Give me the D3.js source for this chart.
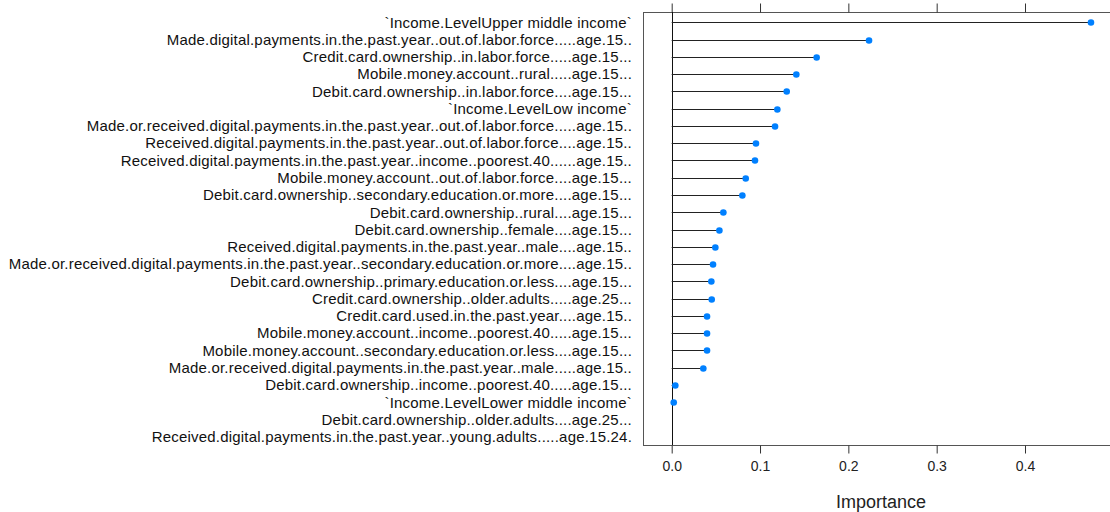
<!DOCTYPE html>
<html>
<head>
<meta charset="utf-8">
<script src="https://cdn.jsdelivr.net/npm/d3@7"></script>
<style>
  body { margin: 0; background: #fff; }
  svg { display: block; font-family: "Liberation Sans", Arial, sans-serif; }
</style>
</head>
<body>
<svg id="chart" width="1110" height="512"></svg>
<script>
(function(){
  var features = [
    '`Income.LevelUpper middle income`',
    'Made.digital.payments.in.the.past.year..out.of.labor.force.....age.15..',
    'Credit.card.ownership..in.labor.force.....age.15...',
    'Mobile.money.account..rural.....age.15...',
    'Debit.card.ownership..in.labor.force....age.15...',
    '`Income.LevelLow income`',
    'Made.or.received.digital.payments.in.the.past.year..out.of.labor.force.....age.15..',
    'Received.digital.payments.in.the.past.year..out.of.labor.force....age.15..',
    'Received.digital.payments.in.the.past.year..income..poorest.40......age.15..',
    'Mobile.money.account..out.of.labor.force....age.15...',
    'Debit.card.ownership..secondary.education.or.more....age.15...',
    'Debit.card.ownership..rural....age.15...',
    'Debit.card.ownership..female....age.15...',
    'Received.digital.payments.in.the.past.year..male....age.15..',
    'Made.or.received.digital.payments.in.the.past.year..secondary.education.or.more....age.15..',
    'Debit.card.ownership..primary.education.or.less....age.15...',
    'Credit.card.ownership..older.adults.....age.25...',
    'Credit.card.used.in.the.past.year....age.15..',
    'Mobile.money.account..income..poorest.40.....age.15...',
    'Mobile.money.account..secondary.education.or.less....age.15...',
    'Made.or.received.digital.payments.in.the.past.year..male.....age.15..',
    'Debit.card.ownership..income..poorest.40.....age.15...',
    '`Income.LevelLower middle income`',
    'Debit.card.ownership..older.adults....age.25...',
    'Received.digital.payments.in.the.past.year..young.adults.....age.15.24.'
  ];

  var importance = [
    0.4747, 0.2234, 0.1641, 0.1411, 0.1302, 0.1196, 0.1170, 0.0954, 0.0943,
    0.0838, 0.0800, 0.0585, 0.0540, 0.0494, 0.0468, 0.0449, 0.0453, 0.0400,
    0.0400, 0.0400, 0.0358, 0.0041, 0.0023, null, null
  ];

  var xTicks = [0, 0.1, 0.2, 0.3, 0.4];

  var data = features.map(function(f, i) { return {name: f, value: importance[i]}; });

  var box = {left: 643, top: 12, right: 1110, bottom: 445};

  var svg = d3.select('#chart');

  var x = d3.scaleLinear()
    .domain([0, 0.4])
    .range([671.7, 1025]);

  var y = d3.scalePoint()
    .domain(features)
    .range([22.3, 436.8]);

  // box
  svg.append('rect')
    .attr('x', box.left + 0.5)
    .attr('y', box.top + 0.5)
    .attr('width', box.right - box.left)
    .attr('height', box.bottom - box.top)
    .attr('fill', 'none')
    .attr('stroke', '#555')
    .attr('stroke-width', 1);

  // axes: bottom with labels, top ticks only
  var bottomAxis = d3.axisBottom(x)
    .tickValues(xTicks)
    .tickFormat(d3.format('.1f'))
    .tickSizeInner(8)
    .tickSizeOuter(0)
    .tickPadding(8);

  var gb = svg.append('g')
    .attr('transform', 'translate(0,' + (box.bottom + 0.5) + ')')
    .call(bottomAxis);
  gb.select('.domain').remove();
  gb.selectAll('line').attr('stroke', '#333');
  gb.selectAll('text')
    .attr('font-size', 14)
    .attr('font-family', '"Liberation Sans", Arial, sans-serif')
    .attr('fill', '#222');

  var gt = svg.append('g')
    .attr('transform', 'translate(0,' + (box.top + 0.5) + ')')
    .call(d3.axisTop(x).tickValues(xTicks).tickFormat('').tickSizeInner(9).tickSizeOuter(0));
  gt.select('.domain').remove();
  gt.selectAll('line').attr('stroke', '#333');

  // zero reference line
  svg.append('line')
    .attr('x1', Math.round(x(0)) + 0.5)
    .attr('x2', Math.round(x(0)) + 0.5)
    .attr('y1', box.top)
    .attr('y2', box.bottom)
    .attr('stroke', '#111')
    .attr('stroke-width', 1);

  var pts = data.filter(function(d) { return d.value !== null; });

  // stems
  svg.append('g')
    .selectAll('line')
    .data(pts)
    .enter()
    .append('line')
    .attr('x1', x(0))
    .attr('x2', function(d) { return x(d.value); })
    .attr('y1', function(d) { return Math.round(y(d.name)) + 0.5; })
    .attr('y2', function(d) { return Math.round(y(d.name)) + 0.5; })
    .attr('stroke', '#222')
    .attr('stroke-width', 1);

  // points
  svg.append('g')
    .selectAll('circle')
    .data(pts)
    .enter()
    .append('circle')
    .attr('cx', function(d) { return x(d.value); })
    .attr('cy', function(d) { return Math.round(y(d.name)) + 0.5; })
    .attr('r', 3.3)
    .attr('fill', '#0080ff');

  // feature labels
  svg.append('g')
    .selectAll('text')
    .data(data)
    .enter()
    .append('text')
    .attr('x', 632)
    .attr('y', function(d) { return y(d.name); })
    .attr('dy', '0.35em')
    .attr('text-anchor', 'end')
    .attr('font-size', 15)
    .attr('letter-spacing', 0.2)
    .attr('fill', '#111')
    .text(function(d) { return d.name; });

  svg.append('text')
    .attr('x', 881)
    .attr('y', 502)
    .attr('dy', '0.35em')
    .attr('text-anchor', 'middle')
    .attr('font-size', 18)
    .attr('fill', '#222')
    .text('Importance');
})();
</script>
</body>
</html>
